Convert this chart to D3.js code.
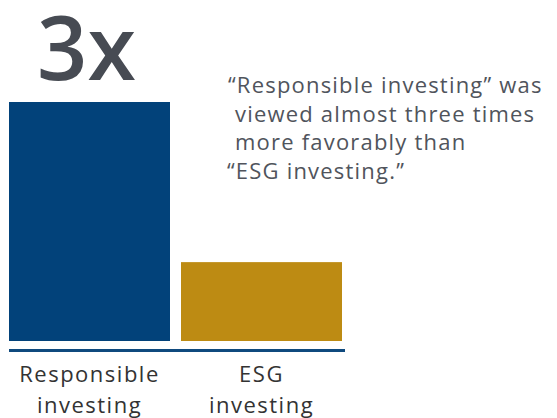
<!DOCTYPE html>
<html>
<head>
<meta charset="utf-8">
<script src="https://cdn.jsdelivr.net/npm/d3@7/dist/d3.min.js"></script>
<style>
  html, body { margin: 0; padding: 0; background: #ffffff; }
  svg { display: block; }
</style>
</head>
<body>
<svg id="chart" width="557" height="418"></svg>
<script>
// Relative favorability of the two labels (index, responsible = 100)
const categories = ["Responsible investing", "ESG investing"];
const labelLines = [["Responsible", "investing"], ["ESG", "investing"]];
const favorability = [100, 33];
const barColors = ["#02427a", "#bd8b13"];
const headline = "3x";
const noteLines = [
  "\u201CResponsible investing\u201D was",
  "viewed almost three times",
  "more favorably than",
  "\u201CESG investing.\u201D"
];

const svg = d3.select("#chart");
const font = "'Open Sans', sans-serif";

const x = d3.scaleBand()
  .domain(categories)
  .range([9, 342])
  .paddingInner(11 / 172)
  .paddingOuter(0);

const y = d3.scaleLinear()
  .domain([0, 100])
  .range([341, 102]);

// Bars
svg.append("g")
  .selectAll("rect")
  .data(categories)
  .join("rect")
  .attr("x", d => x(d))
  .attr("y", (d, i) => y(favorability[i]))
  .attr("width", x.bandwidth())
  .attr("height", (d, i) => y(0) - y(favorability[i]))
  .attr("fill", (d, i) => barColors[i]);

// Baseline rule
svg.append("line")
  .attr("x1", 9)
  .attr("x2", 345)
  .attr("y1", 350.5)
  .attr("y2", 350.5)
  .attr("stroke", "#0f4a7e")
  .attr("stroke-width", 3);

// Category labels, two lines each, centred under the bars
const labels = svg.append("g")
  .attr("font-family", font)
  .attr("font-size", 22)
  .attr("letter-spacing", 1.5)
  .attr("fill", "#333333")
  .attr("text-anchor", "middle");

categories.forEach((c, i) => {
  const cx = x(c) + x.bandwidth() / 2;
  labelLines[i].forEach((ln, j) => {
    labels.append("text")
      .attr("x", cx)
      .attr("y", 382 + j * 31)
      .text(ln);
  });
});

// Headline multiplier above the tall bar
svg.append("text")
  .attr("x", x(categories[0]) + x.bandwidth() / 2 - 3)
  .attr("y", 80)
  .attr("text-anchor", "middle")
  .attr("font-family", font)
  .attr("font-weight", 600)
  .attr("font-size", 88)
  .attr("fill", "#474b53")
  .text(headline);

// Annotation
const noteX = [228, 235, 235, 227];
const note = svg.append("g")
  .attr("font-family", font)
  .attr("font-size", 22)
  .attr("letter-spacing", 1.2)
  .attr("fill", "#50545c");

noteLines.forEach((ln, i) => {
  note.append("text")
    .attr("x", noteX[i])
    .attr("y", 93 + i * 28.5)
    .text(ln);
});
</script>
</body>
</html>
